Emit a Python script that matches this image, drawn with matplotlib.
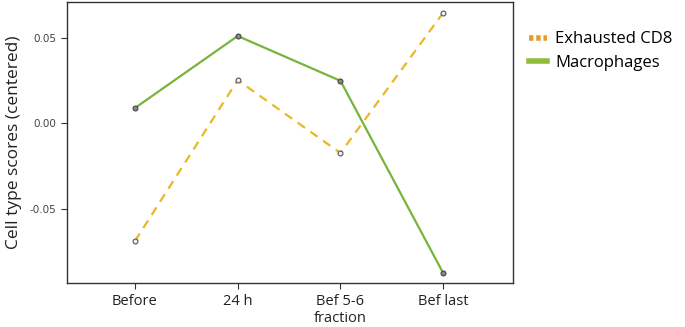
import matplotlib
matplotlib.use('Agg')
import matplotlib.pyplot as plt
from matplotlib.lines import Line2D

# datos
etapas = ['Before', '24 h', 'Bef 5-6\nfraction', 'Bef last']
exhausted_cd8 = [-0.069, 0.0251, -0.0175, 0.0645]
macrophages = [0.0088, 0.0509, 0.0247, -0.0877]

plt.rcParams['font.family'] = ['Open Sans', 'DejaVu Sans']

fig = plt.figure(figsize=(6.85, 3.27), dpi=100)
ax = fig.add_axes([0.098, 0.134, 0.651, 0.86])

x = list(range(1, len(etapas) + 1))
ax.plot(x, exhausted_cd8, color='#E8B923', lw=1.6, ls=(0, (4, 3)),
        marker='o', ms=3.5, mfc='#f0f0f0', mec='#555555', mew=0.8)
ax.plot(x, macrophages, color='#76B53A', lw=1.6,
        marker='o', ms=3.5, mfc='#888888', mec='#444444', mew=0.8)

ax.set_xlim(0.34, 4.68)
ax.set_ylim(-0.0936, 0.0708)
ax.set_xticks(x)
ax.set_xticklabels(etapas, fontsize=10.5, color='#222222', linespacing=1.25)
ax.set_yticks([-0.05, 0.0, 0.05])
ax.set_yticklabels(['-0.05', '0.00', '0.05'], fontsize=7.5, color='#444444',
                   family='DejaVu Sans')
ax.set_ylabel('Cell type scores (centered)', fontsize=12.5, color='#222222',
              labelpad=6)
for s in ax.spines.values():
    s.set_color('#333333')
    s.set_linewidth(1)
ax.tick_params(length=4, color='#333333')

handles = [Line2D([], [], color='#E89B2B', lw=4, ls=(0, (0.8, 0.5))),
           Line2D([], [], color='#8DBE3A', lw=4)]
fig.legend(handles, ['Exhausted CD8', 'Macrophages'], loc='upper left',
           bbox_to_anchor=(0.75, 0.95), frameon=False, fontsize=12,
           handlelength=1.1, handletextpad=0.5, labelspacing=0.45)

fig.savefig('out.png', dpi=100)
